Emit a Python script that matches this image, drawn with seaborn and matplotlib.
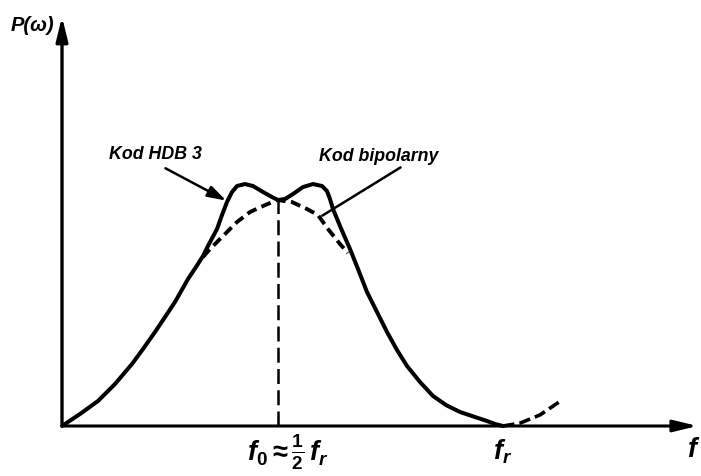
import pandas as pd
import matplotlib
matplotlib.use("Agg")
import matplotlib.pyplot as plt
import seaborn as sns

# Units: frequency normalised to f_r = 1, density normalised to the HDB3 hump ~ 1
hdb3_f = [0.0000, 0.0408, 0.0816, 0.1202, 0.1587, 0.1837, 0.2109, 0.2336, 0.2562, 0.2857,
          0.3039, 0.3197, 0.3333, 0.3515, 0.3628, 0.3741, 0.3855, 0.3968, 0.4150, 0.4331,
          0.4558, 0.4762, 0.4898, 0.5057, 0.5238, 0.5465, 0.5692, 0.5896, 0.6009, 0.6077,
          0.6145, 0.6304, 0.6531, 0.6712, 0.6916, 0.7143, 0.7370, 0.7596, 0.7823, 0.8118,
          0.8413, 0.8707, 0.9025, 0.9365, 0.9637, 0.9819, 1.0000]
hdb3_p = [0.0000, 0.0498, 0.1037, 0.1743, 0.2573, 0.3195, 0.3900, 0.4523, 0.5145, 0.6100,
          0.6598, 0.7054, 0.7552, 0.8174, 0.8755, 0.9295, 0.9710, 0.9959, 1.0041, 0.9959,
          0.9710, 0.9502, 0.9378, 0.9419, 0.9627, 0.9917, 1.0041, 0.9959, 0.9751, 0.9419,
          0.9004, 0.8299, 0.7344, 0.6515, 0.5560, 0.4730, 0.3900, 0.3154, 0.2490, 0.1826,
          0.1245, 0.0871, 0.0581, 0.0373, 0.0207, 0.0083, 0.0000]

bipolar_f = [0.3197, 0.3356, 0.3651, 0.3968, 0.4263, 0.4558, 0.4875, 0.5215, 0.5556,
             0.5805, 0.6032, 0.6304, 0.6485]
bipolar_p = [0.7012, 0.7344, 0.7884, 0.8465, 0.8880, 0.9129, 0.9378, 0.9295, 0.9004,
             0.8755, 0.8174, 0.7552, 0.7178]

tail_f = [1.000, 1.039, 1.084, 1.134]
tail_p = [0.000, 0.012, 0.046, 0.108]

f0 = 0.4898
fr = 1.0

sns.set_theme(style="white")
plt.rcParams["font.family"] = ["Liberation Sans Narrow", "Liberation Sans", "DejaVu Sans"]
plt.rcParams["mathtext.fontset"] = "custom"
plt.rcParams["mathtext.it"] = "Liberation Sans:italic:bold"
plt.rcParams["mathtext.rm"] = "Liberation Sans:bold"
plt.rcParams["mathtext.bf"] = "Liberation Sans:bold"

fig = plt.figure(figsize=(7.01, 4.77), dpi=100)
ax = fig.add_axes([0, 0, 1, 1])
ax.set_xlim(-0.1406, 1.449)
ax.set_ylim(-0.2075, 1.772)
ax.axis("off")

hdb3 = pd.DataFrame({"f": hdb3_f, "p": hdb3_p})
bip = pd.DataFrame({"f": bipolar_f, "p": bipolar_p})
tail = pd.DataFrame({"f": tail_f, "p": tail_p})

sns.lineplot(data=hdb3, x="f", y="p", sort=False, estimator=None, color="black",
             lw=2.9, ax=ax, solid_joinstyle="round", solid_capstyle="round")
sns.lineplot(data=bip, x="f", y="p", sort=False, estimator=None, color="black",
             lw=2.8, ax=ax, linestyle=(0, (2.6, 1.4)))
sns.lineplot(data=tail, x="f", y="p", sort=False, estimator=None, color="black",
             lw=2.6, ax=ax, linestyle=(0, (3.2, 1.4)))

# f0 marker
ax.plot([f0, f0], [0, 0.938], color="black", lw=1.8, linestyle=(0, (6, 2.5)))

# axes with arrows
head = "-|>,head_length=0.9,head_width=0.22"
ax.annotate("", xy=(1.447, 0), xytext=(-0.003, 0),
            arrowprops=dict(arrowstyle=head, lw=2.2, color="black", mutation_scale=16))
ax.annotate("", xy=(0, 1.71), xytext=(0, -0.003),
            arrowprops=dict(arrowstyle=head, lw=2.4, color="black", mutation_scale=16))

lab = dict(fontweight="bold", fontstyle="italic", color="black", ha="center", va="center")
ax.text(-0.066, 1.668, "P(ω)", fontsize=14.5, **lab)
ax.text(0.213, 1.129, "Kod HDB 3", fontsize=12.8, **lab)
ax.text(0.717, 1.124, "Kod bipolarny", fontsize=12.8, **lab)
ax.text(0.512, -0.104, r"$f_0 \approx \frac{1}{2}\,f_r$", fontsize=19.5, **lab)
ax.text(fr, -0.104, r"$f_r$", fontsize=19.5, **lab)
ax.text(1.433, -0.095, r"$f$", fontsize=19.5, **lab)

# pointers
ax.annotate("", xy=(0.378, 0.930), xytext=(0.229, 1.075),
            arrowprops=dict(arrowstyle="-|>,head_length=0.8,head_width=0.25",
                            lw=1.8, color="black", mutation_scale=14))
ax.annotate("", xy=(0.585, 0.867), xytext=(0.773, 1.079),
            arrowprops=dict(arrowstyle="-", lw=1.8, color="black"))

fig.savefig("out.png", dpi=100)
